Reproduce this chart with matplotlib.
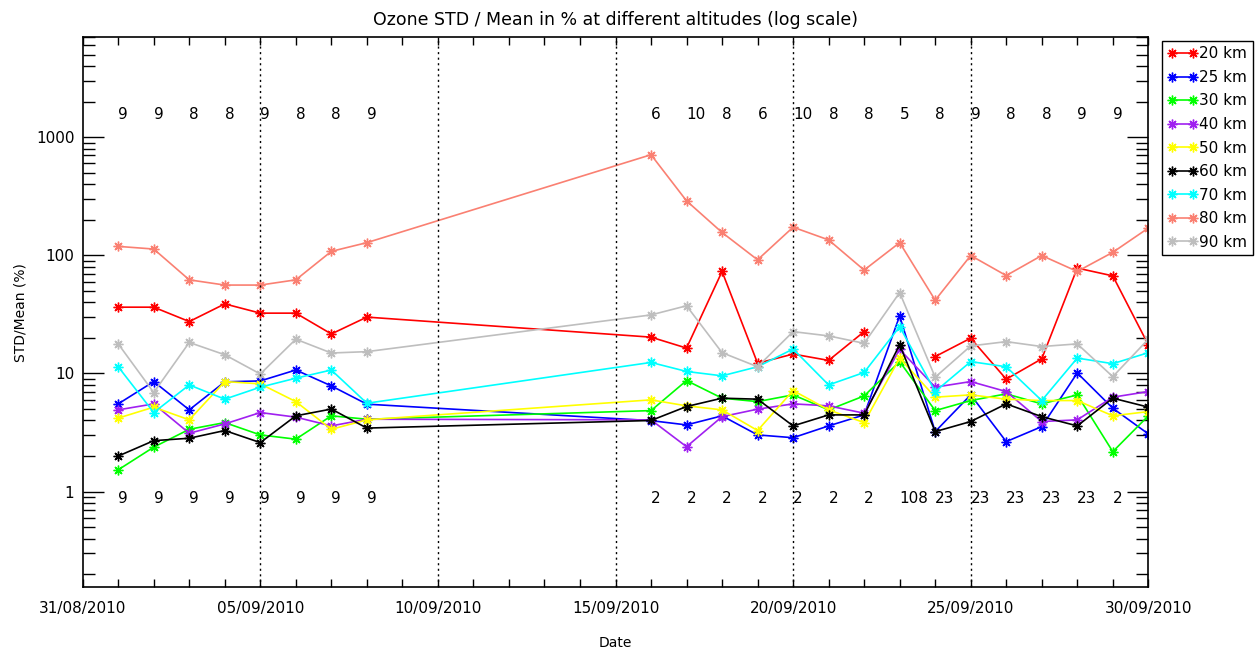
import numpy as np
import matplotlib
matplotlib.use("Agg")
import matplotlib.pyplot as plt
import matplotlib.dates as mdates
from matplotlib.ticker import FixedLocator, NullFormatter
import datetime as dt

# ---------------- data ----------------
days = [1, 2, 3, 4, 5, 6, 7, 8, 16, 17, 18, 19, 20, 21, 22, 23, 24, 25, 26, 27, 28, 29, 30]
nan = np.nan
km20 = [36.4, 36.4, 27.5, 38.8, 32.4, 32.4, 21.6, 30.0, 20.3, 16.4, 73.0, 12.2, 14.6, 12.9, 22.6, nan,
        13.9, 19.9, 8.95, 13.3, 78.0, 67.0, 17.5]
km25 = [5.53, 8.54, 4.92, 8.5, 8.65, 10.7, 7.85, 5.5, 3.99, 3.67, 4.38, 3.02, 2.86, 3.6, 4.46, 30.7,
        3.22, 6.59, 2.65, 3.55, 10.1, 5.08, 3.08]
km30 = [1.53, 2.38, 3.37, 3.84, 3.02, 2.78, 4.38, 4.1, 4.85, 8.71, 6.18, 5.78, 6.59, 4.92, 6.46, 12.6,
        4.85, 5.9, 6.72, 5.53, 6.59, 2.18, 4.38]
km40 = [4.92, 5.53, 3.12, 3.74, 4.67, 4.27, 3.6, 4.1, 4.05, 2.4, 4.31, 4.99, 5.53, 5.32, 4.61, 16.0,
        7.66, 8.54, 7.03, 3.92, 4.05, 6.3, 7.03]
km50 = [4.19, 5.19, 4.05, 8.54, 8.17, 5.78, 3.37, 4.05, 5.98, 5.32, 4.92, 3.29, 7.17, 4.92, 3.84, 13.5,
        6.3, 6.59, 6.06, 5.9, 5.9, 4.38, 4.76]
km60 = [2.0, 2.7, 2.83, 3.29, 2.6, 4.38, 5.0, 3.45, 4.0, 5.25, 6.18, 6.06, 3.6, 4.46, 4.46, 17.5,
        3.22, 3.92, 5.53, 4.31, 3.6, 6.18, 5.19]
km70 = [11.4, 4.67, 8.0, 6.06, 7.66, 9.12, 10.7, 5.6, 12.4, 10.4, 9.55, 11.4, 16.1, 8.0, 10.2, 24.9,
        7.03, 12.6, 11.4, 5.9, 13.5, 12.1, 15.0]
km80 = [119, 113, 62, 56, 56, 62, 108, 128, 710, 289, 156, 91.6, 173, 135, 75, 128,
        41.7, 99.6, 67.4, 99.6, 73, 106, 170]
km90 = [17.8, 6.9, 18.3, 14.4, 9.9, 19.5, 14.9, 15.3, 31.3, 37.4, 15.0, 11.4, 22.6, 20.8, 18.0, 48.4,
        9.3, 17.1, 18.6, 16.9, 17.8, 9.4, 19.5]

series_labels = ["20 km", "25 km", "30 km", "40 km", "50 km", "60 km", "70 km", "80 km", "90 km"]
series_colors = ["#ff0000", "#0000ff", "#00ff00", "#a020f0", "#ffff00", "#000000",
                 "#00ffff", "#fa8072", "#bebebe"]

top_days = [1, 2, 3, 4, 5, 6, 7, 8, 16, 17, 18, 19, 20, 21, 22, 23, 24, 25, 26, 27, 28, 29]
top_counts = ["9", "9", "8", "8", "9", "8", "8", "9", "6", "10", "8", "6", "10", "8", "8", "5",
              "8", "9", "8", "8", "9", "9"]
bottom_days = [1, 2, 3, 4, 5, 6, 7, 8, 16, 17, 18, 19, 20, 21, 22, 23, 24, 25, 26, 27, 28, 29]
bottom_counts = ["9", "9", "9", "9", "9", "9", "9", "9", "2", "2", "2", "2", "2", "2", "2", "108",
                 "23", "23", "23", "23", "23", "2"]

xtick_labels = ["31/08/2010", "05/09/2010", "10/09/2010", "15/09/2010",
                "20/09/2010", "25/09/2010", "30/09/2010"]

# ---------------- figure ----------------
plt.rcParams['font.family'] = ['DejaVu Sans']
W, H = 1255, 649
fig = plt.figure(figsize=(W / 100, H / 100), dpi=100)
ax = fig.add_axes([82.7 / W, 1 - 587.3 / H, (1148.3 - 82.7) / W, (587.3 - 37.3) / H])

def to_date(d):
    return dt.datetime(2010, 9, 1) + dt.timedelta(days=d - 1)

xd = [to_date(d) for d in days]
all_series = [km20, km25, km30, km40, km50, km60, km70, km80, km90]
asterisk = (8, 2, 0)
for vals, lab, col in zip(all_series, series_labels, series_colors):
    ax.plot(xd, vals, color=col, lw=1.2, marker=asterisk, ms=7, mew=1.0, label=lab)

ax.set_yscale('log')
ax.set_ylim(0.155, 7000)
x0 = dt.datetime(2010, 8, 31)
x1 = dt.datetime(2010, 9, 30)
ax.set_xlim(x0, x1)

major_dates = [x0 + dt.timedelta(days=5 * i) for i in range(7)]
ax.set_xticks(major_dates)
ax.set_xticklabels(xtick_labels)
ax.xaxis.set_minor_locator(mdates.DayLocator())
for md in major_dates[1:-1]:
    ax.axvline(md, color='black', ls=(0, (1.5, 2.5)), lw=1.0)

ax.yaxis.set_major_locator(FixedLocator([1, 10, 100, 1000]))
ax.set_yticklabels(["1", "10", "100", "1000"])
ax.yaxis.set_minor_locator(FixedLocator([v * 10.0 ** e for e in range(-1, 4) for v in range(2, 10)]))
ax.yaxis.set_minor_formatter(NullFormatter())

ax.tick_params(axis='x', which='both', direction='in', top=True, length=6, width=1, labelsize=11, pad=10)
ax.tick_params(axis='y', which='major', direction='in', right=True, length=15, width=1, labelsize=11, pad=6)
ax.tick_params(axis='y', which='minor', direction='in', right=True, length=8.5, width=1)
for sp in ax.spines.values():
    sp.set_linewidth(1.2)

# count annotations
for d, t in zip(top_days, top_counts):
    ax.text(to_date(d), 1549, t, fontsize=11, ha='left', va='center')
for d, t in zip(bottom_days, bottom_counts):
    ax.text(to_date(d), 0.87, t, fontsize=11, ha='left', va='center')

ax.set_title("Ozone STD / Mean in % at different altitudes (log scale)", fontsize=12.5, pad=9)
ax.set_ylabel("STD/Mean (%)", fontsize=10)
fig.text(615 / W, 1 - 643 / H, "Date", fontsize=10, ha='center', va='center')
ax.yaxis.set_label_coords(-0.052, 0.5)

leg = ax.legend(loc='upper left', bbox_to_anchor=(1162 / W, 1 - 41 / H),
                bbox_transform=fig.transFigure, numpoints=2, fontsize=11,
                handlelength=2.0, handletextpad=0.1, labelspacing=0.56,
                borderaxespad=0, borderpad=0.35, fancybox=False, framealpha=1,
                edgecolor='black')
leg.get_frame().set_linewidth(1.0)

fig.savefig("out.png", dpi=100)
